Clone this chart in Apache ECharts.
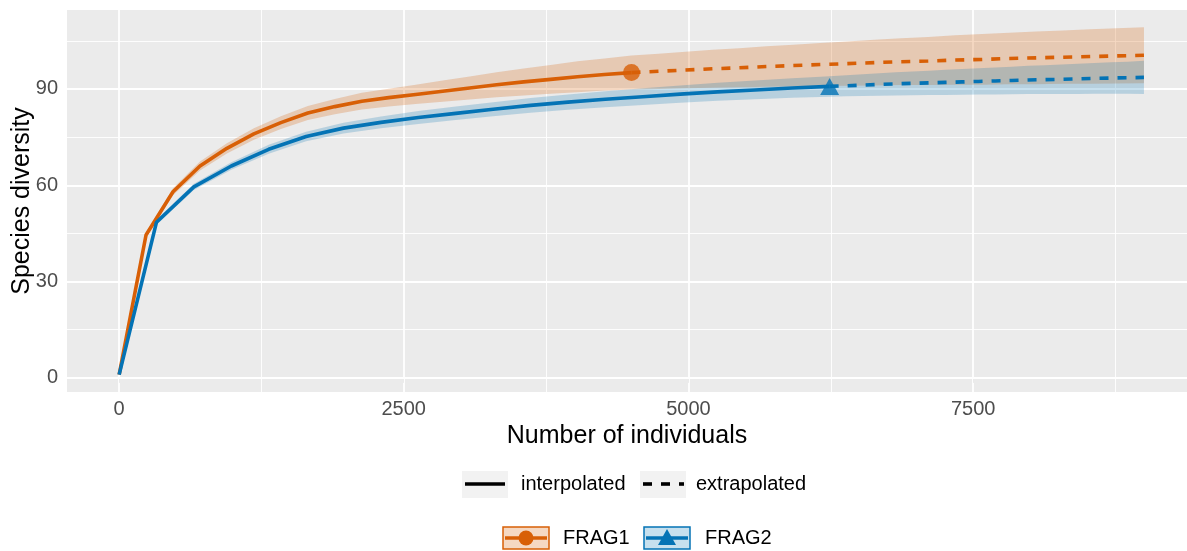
<!DOCTYPE html>
<html>
<head>
<meta charset="utf-8">
<title>Species diversity</title>
<script src="https://cdn.jsdelivr.net/npm/echarts@6/dist/echarts.min.js"></script>
<style>
  html, body { margin: 0; padding: 0; background: #fff; }
  #chart { width: 1187px; height: 551px; }
</style>
</head>
<body>
<div id="chart"></div>
<script>
// ticks
const xTicks = [0, 2500, 5000, 7500]
const xMinorTicks = [1250, 3750, 6250, 8750]
const yTicks = [0, 30, 60, 90]
const yMinorTicks = [15, 45, 75, 105]

// FRAG1 (observed n = 4500)
const frag1InterpX = [1, 237, 474, 711, 947, 1184, 1421, 1658, 1895, 2132, 2368, 2605, 2842, 3079, 3316, 3553, 3789, 4026, 4263, 4500]
const frag1InterpY = [1, 44.5, 58, 66, 71.5, 76, 79.5, 82.5, 84.5, 86.2, 87.3, 88.3, 89.3, 90.3, 91.3, 92.2, 93.0, 93.8, 94.5, 95.1]
const frag1InterpLo = [1, 43.7, 56.9, 64.6, 69.9, 74.2, 77.5, 80.3, 82.1, 83.6, 84.5, 85.3, 86.0, 86.7, 87.4, 88.0, 88.5, 89.0, 89.5, 89.8]
const frag1InterpHi = [1, 45.3, 59.1, 67.4, 73.1, 77.8, 81.5, 84.7, 86.9, 88.8, 90.1, 91.3, 92.6, 93.9, 95.2, 96.4, 97.5, 98.6, 99.5, 100.4]
const frag1ExtrapX = [4500, 4737, 4974, 5211, 5447, 5684, 5921, 6158, 6395, 6632, 6868, 7105, 7342, 7579, 7816, 8053, 8289, 8526, 8763, 9000]
const frag1ExtrapY = [95.1, 95.5, 95.9, 96.3, 96.6, 97.0, 97.3, 97.6, 97.9, 98.2, 98.5, 98.7, 99.0, 99.2, 99.5, 99.7, 99.9, 100.1, 100.3, 100.5]
const frag1ExtrapLo = [89.8, 90.0, 90.2, 90.4, 90.5, 90.7, 90.8, 90.9, 91.0, 91.1, 91.2, 91.2, 91.3, 91.3, 91.5, 91.5, 91.6, 91.6, 91.7, 91.8]
const frag1ExtrapHi = [100.4, 101.0, 101.6, 102.2, 102.7, 103.3, 103.8, 104.3, 104.8, 105.3, 105.8, 106.2, 106.7, 107.1, 107.5, 107.9, 108.2, 108.6, 108.9, 109.2]

// FRAG2 (observed n = 6240)
const frag2InterpX = [1, 329, 657, 986, 1314, 1643, 1971, 2300, 2628, 2957, 3285, 3613, 3942, 4270, 4599, 4927, 5256, 5584, 5912, 6240]
const frag2InterpY = [1, 48.5, 59.5, 66.0, 71.2, 75.2, 77.8, 79.6, 81.1, 82.4, 83.7, 84.9, 85.9, 86.8, 87.6, 88.4, 89.1, 89.7, 90.3, 90.8]
const frag2InterpLo = [1, 47.7, 58.5, 64.8, 69.8, 73.7, 76.1, 77.8, 79.1, 80.3, 81.5, 82.6, 83.5, 84.3, 85.0, 85.7, 86.3, 86.8, 87.3, 87.6]
const frag2InterpHi = [1, 49.3, 60.5, 67.2, 72.6, 76.7, 79.5, 81.4, 83.1, 84.5, 85.9, 87.2, 88.3, 89.3, 90.2, 91.1, 91.9, 92.6, 93.3, 94.0]
const frag2ExtrapX = [6240, 6385, 6531, 6676, 6821, 6966, 7112, 7257, 7402, 7547, 7693, 7838, 7983, 8128, 8274, 8419, 8564, 8709, 8855, 9000]
const frag2ExtrapY = [90.8, 91.0, 91.2, 91.4, 91.6, 91.75, 91.9, 92.05, 92.2, 92.35, 92.5, 92.65, 92.8, 92.9, 93.0, 93.15, 93.3, 93.4, 93.5, 93.6]
const frag2ExtrapLo = [87.6, 87.7, 87.8, 87.9, 88.0, 88.05, 88.1, 88.15, 88.2, 88.25, 88.3, 88.35, 88.4, 88.4, 88.4, 88.45, 88.5, 88.5, 88.5, 88.4]
const frag2ExtrapHi = [94.0, 94.3, 94.6, 94.9, 95.2, 95.45, 95.7, 95.95, 96.2, 96.45, 96.7, 96.95, 97.2, 97.4, 97.6, 97.85, 98.1, 98.3, 98.5, 98.8]

const orange = '#D85F06'
const blue = '#0473B5'
const font = '"Liberation Sans", Arial, Helvetica, sans-serif'

const zip = (xs, ys) => xs.map((x, i) => [x, ys[i]])

function band(xs, lo, hi, fill) {
  return {
    type: 'custom',
    silent: true,
    z: 5,
    data: xs.map((x, i) => [x, lo[i], hi[i]]),
    encode: { x: 0, y: [1, 2] },
    renderItem(params, api) {
      if (params.dataIndex !== 0) return null
      const top = xs.map((x, i) => api.coord([x, hi[i]]))
      const bottom = xs.map((x, i) => api.coord([x, lo[i]])).reverse()
      return { type: 'polygon', shape: { points: top.concat(bottom) }, style: { fill: fill } }
    }
  }
}

function line(xs, ys, color, dashed) {
  return {
    type: 'line',
    data: zip(xs, ys),
    symbol: 'none',
    silent: true,
    z: 6,
    lineStyle: { color: color, width: 3.6, type: dashed ? [9, 9] : 'solid', cap: 'butt' }
  }
}

// ggplot-style grid lines
const gridLines = []
xTicks.forEach(v => gridLines.push({ xAxis: v, lineStyle: { width: 1.8 } }))
xMinorTicks.forEach(v => gridLines.push({ xAxis: v, lineStyle: { width: 0.9 } }))
yTicks.forEach(v => gridLines.push({ yAxis: v, lineStyle: { width: 1.8 } }))
yMinorTicks.forEach(v => gridLines.push({ yAxis: v, lineStyle: { width: 0.9 } }))

const frag1BandX = frag1InterpX.concat(frag1ExtrapX.slice(1))
const frag2BandX = frag2InterpX.concat(frag2ExtrapX.slice(1))

const chart = echarts.init(document.getElementById('chart'))
const options = {
  animation: false,
  backgroundColor: '#fff',
  textStyle: { fontFamily: font },
  grid: {
    left: 67, right: 0, top: 10, bottom: 159,
    containLabel: false, outerBoundsMode: 'none',
    show: true, backgroundColor: '#EBEBEB', borderWidth: 0
  },
  xAxis: {
    type: 'value',
    min: -457,
    max: 9378,
    name: 'Number of individuals',
    nameLocation: 'middle',
    nameGap: 32,
    nameMoveOverlap: false,
    nameTextStyle: { fontSize: 25, color: '#000', fontFamily: font },
    axisLine: { show: false },
    axisTick: { show: true, customValues: xTicks, length: 5, lineStyle: { color: '#333', width: 1 } },
    axisLabel: { customValues: xTicks, formatter: v => String(v), fontSize: 20, color: '#4D4D4D', margin: 7, fontFamily: font },
    splitLine: { show: false }
  },
  yAxis: {
    type: 'value',
    min: -4.4,
    max: 114.6,
    name: 'Species diversity',
    nameLocation: 'middle',
    nameGap: 32,
    nameMoveOverlap: false,
    nameTextStyle: { fontSize: 25, color: '#000', fontFamily: font },
    axisLine: { show: false },
    axisTick: { show: true, customValues: yTicks, length: 5, lineStyle: { color: '#333', width: 1 } },
    axisLabel: { customValues: yTicks, formatter: v => String(v), fontSize: 20, color: '#4D4D4D', margin: 9, fontFamily: font },
    splitLine: { show: false }
  },
  series: [
    {
      type: 'line',
      data: [],
      z: 1,
      silent: true,
      markLine: {
        silent: true,
        z: 1,
        symbol: ['none', 'none'],
        label: { show: false },
        lineStyle: { color: '#fff', type: 'solid' },
        data: gridLines
      }
    },
    band(frag1BandX, frag1InterpLo.concat(frag1ExtrapLo.slice(1)), frag1InterpHi.concat(frag1ExtrapHi.slice(1)), 'rgba(213,94,0,0.24)'),
    band(frag2BandX, frag2InterpLo.concat(frag2ExtrapLo.slice(1)), frag2InterpHi.concat(frag2ExtrapHi.slice(1)), 'rgba(0,114,178,0.22)'),
    line(frag1InterpX, frag1InterpY, orange, false),
    line(frag1ExtrapX, frag1ExtrapY, orange, true),
    line(frag2InterpX, frag2InterpY, blue, false),
    line(frag2ExtrapX, frag2ExtrapY, blue, true),
    {
      type: 'scatter', z: 7, silent: true,
      data: [[frag1InterpX[frag1InterpX.length - 1], frag1InterpY[frag1InterpY.length - 1]]],
      symbol: 'circle', symbolSize: 17, itemStyle: { color: orange }
    },
    {
      type: 'scatter', z: 7, silent: true,
      data: [[frag2InterpX[frag2InterpX.length - 1], frag2InterpY[frag2InterpY.length - 1]]],
      symbol: 'triangle', symbolSize: [19, 17], itemStyle: { color: blue }
    }
  ],
  graphic: [
    // line type legend
    { type: 'rect', shape: { x: 462, y: 471, width: 46, height: 27 }, style: { fill: '#F2F2F2' } },
    { type: 'line', shape: { x1: 465, y1: 484, x2: 505, y2: 484 }, style: { stroke: '#000', lineWidth: 3.6 } },
    { type: 'text', x: 521, y: 484, style: { text: 'interpolated', font: '20px ' + font, fill: '#000', verticalAlign: 'middle' } },
    { type: 'rect', shape: { x: 640, y: 471, width: 46, height: 27 }, style: { fill: '#F2F2F2' } },
    { type: 'line', shape: { x1: 643, y1: 484, x2: 684, y2: 484 }, style: { stroke: '#000', lineWidth: 3.6, lineDash: [9, 9] } },
    { type: 'text', x: 696, y: 484, style: { text: 'extrapolated', font: '20px ' + font, fill: '#000', verticalAlign: 'middle' } },
    // site legend
    { type: 'rect', shape: { x: 503, y: 527, width: 46, height: 22 }, style: { fill: 'rgba(213,94,0,0.24)', stroke: orange, lineWidth: 1.5 } },
    { type: 'line', shape: { x1: 505, y1: 538, x2: 547, y2: 538 }, style: { stroke: orange, lineWidth: 3.6 } },
    { type: 'circle', shape: { cx: 526, cy: 538, r: 7.5 }, style: { fill: orange } },
    { type: 'text', x: 563, y: 538, style: { text: 'FRAG1', font: '20px ' + font, fill: '#000', verticalAlign: 'middle' } },
    { type: 'rect', shape: { x: 644, y: 527, width: 46, height: 22 }, style: { fill: 'rgba(0,114,178,0.22)', stroke: blue, lineWidth: 1.5 } },
    { type: 'line', shape: { x1: 646, y1: 538, x2: 688, y2: 538 }, style: { stroke: blue, lineWidth: 3.6 } },
    { type: 'polygon', shape: { points: [[667, 529], [676, 545], [658, 545]] }, style: { fill: blue } },
    { type: 'text', x: 705, y: 538, style: { text: 'FRAG2', font: '20px ' + font, fill: '#000', verticalAlign: 'middle' } }
  ]
}
chart.setOption(options)
</script>
</body>
</html>
